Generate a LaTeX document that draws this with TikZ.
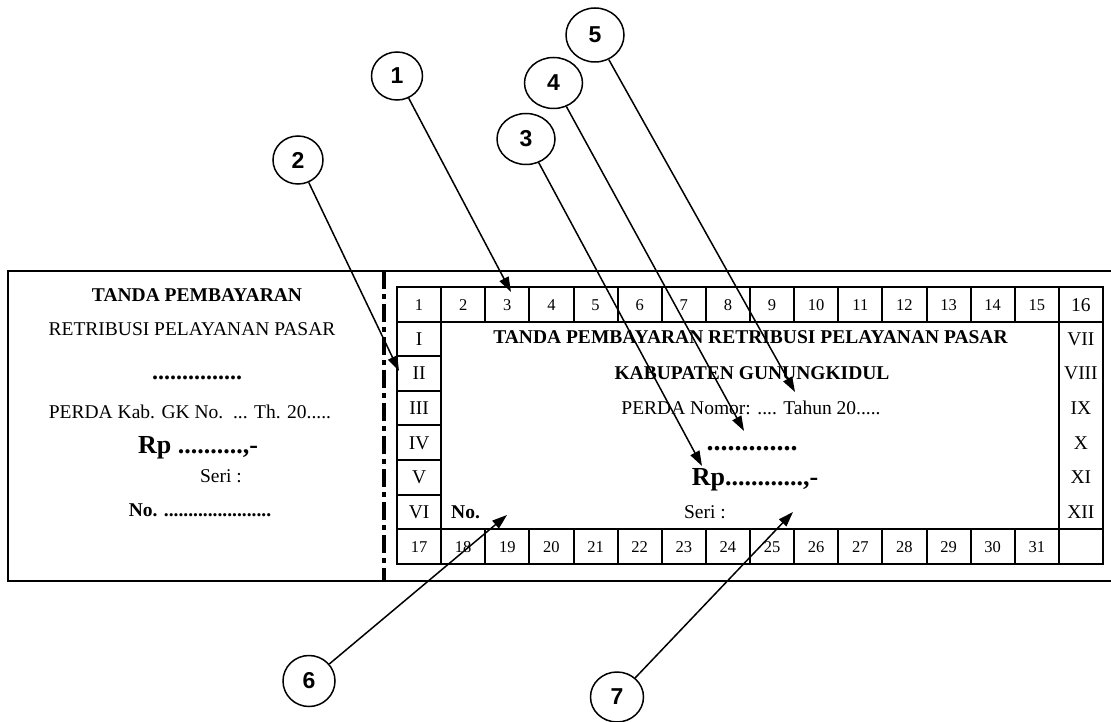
\documentclass[tikz,border=0pt]{standalone}
\usepackage{fontspec}
\setmainfont{Liberation Serif}
\newfontfamily\arialfont{Liberation Sans}
\usetikzlibrary{arrows.meta,shapes.geometric}
\begin{document}
\begin{tikzpicture}[x=1pt,y=-1pt,
  txt/.style={inner sep=0pt,anchor=base,font=\fontsize{19.5}{22}\selectfont},
  btxt/.style={inner sep=0pt,anchor=base,font=\fontsize{19.5}{22}\selectfont\bfseries},
  bigtxt/.style={inner sep=0pt,anchor=base,font=\fontsize{26}{28}\selectfont\bfseries},
  num/.style={inner sep=0pt,anchor=base,font=\fontsize{16.5}{19}\selectfont},
  callout/.style={ellipse,draw,line width=1.5pt,inner sep=0pt,font=\arialfont\bfseries\fontsize{23}{26}\selectfont},
  pointer/.style={line width=1.5pt,-{Triangle[length=15pt,width=10pt]}},
  grid/.style={line width=2pt}]
\useasboundingbox (0,0) rectangle (1111,722);

% outer frame and tear line
\draw[line width=2pt] (1116,271) -- (8,271) -- (8,581) -- (1116,581);
\draw[line width=4.5pt, dash pattern=on 18pt off 5pt on 5pt off 5pt] (384,271) -- (384,581);

% left stub
\node[btxt] (l1) at (197,301) {TANDA PEMBAYARAN};
\node[txt] (l2) at (192,335) {RETRIBUSI PELAYANAN PASAR};
\node[inner sep=0pt,anchor=base,font=\fontsize{24}{26}\selectfont\bfseries] (l3) at (197,379) {...............};
\node[txt] (l4) at (190,418) {PERDA Kab. GK No.\ \ ... Th. 20.....};
\node[bigtxt] (l5) at (198,453) {Rp ..........,-};
\node[txt] (l6) at (221,482) {Seri :};
\node[btxt] (l7) at (200,516) {No. ......................};

% table
\draw[grid] (397,287) rectangle (1103,563.8);
\draw[grid] (397,321.6) -- (1103,321.6);
\draw[grid] (397,529.2) -- (1103,529.2);
\foreach \i in {1,...,15} {
  \draw[grid] ({397+\i*44.125},287) -- ({397+\i*44.125},321.6);
  \draw[grid] ({397+\i*44.125},529.2) -- ({397+\i*44.125},563.8);
}
\draw[grid] (441.125,321.6) -- (441.125,529.2);
\draw[grid] (1058.875,321.6) -- (1058.875,529.2);
\foreach \k in {2,...,6} {
  \draw[grid] (397,{287+\k*34.6}) -- (441.125,{287+\k*34.6});
}
\foreach \i in {1,...,15} {
  \node[num] (top\i) at ({397+(\i-0.5)*44.125},310) {\i};
}
\node[txt] (top16) at ({397+15.5*44.125},311) {16};
\foreach \j [count=\i] in {17,...,31} {
  \node[num] (bot\i) at ({397+(\i-0.5)*44.125},552) {\j};
}
\foreach \r [count=\k] in {I,II,III,IV,V,VI} {
  \node[txt] (rl\k) at (419.06,{287+(\k+0.5)*34.6+6.3}) {\r};
}
\foreach \r [count=\k] in {VII,VIII,IX,X,XI,XII} {
  \node[txt] (rr\k) at (1080.94,{287+(\k+0.5)*34.6+6.3}) {\r};
}

% ticket body
\node[btxt] (m1) at (750.5,343.5) {TANDA PEMBAYARAN RETRIBUSI PELAYANAN PASAR};
\node[btxt] (m2) at (752,379) {KABUPATEN GUNUNGKIDUL};
\node[txt] (m3) at (751,414) {PERDA Nomor: .... Tahun 20.....};
\node[inner sep=0pt,anchor=base,font=\fontsize{28}{30}\selectfont\bfseries] (m4) at (752,450) {.............};
\node[bigtxt] (m5) at (755,485) {Rp............,-};
\node[btxt,anchor=base west] (m6) at (451,518) {No.};
\node[txt] (m7) at (705,518) {Seri :};

% callouts
\node[callout,minimum width=51pt,minimum height=48pt] (c1) at (397,76) {1};
\node[callout,minimum width=50pt,minimum height=48pt] (c2) at (298,160) {2};
\node[callout,minimum width=58pt,minimum height=51pt] (c3) at (526,139) {3};
\node[callout,minimum width=58pt,minimum height=51pt] (c4) at (553.5,83) {4};
\node[callout,minimum width=58pt,minimum height=54pt] (c5) at (595,35) {5};
\node[callout,minimum width=52pt,minimum height=51pt] (c6) at (309,681) {6};
\node[callout,minimum width=53pt,minimum height=50pt] (c7) at (617,697) {7};

\coordinate (t1) at (511,292);
\coordinate (t2) at (399,371);
\coordinate (t3) at (702,466);
\coordinate (t4) at (744,431);
\coordinate (t5) at (795,392);
\coordinate (t6) at (507,515);
\coordinate (t7) at (793,512);
\foreach \n in {1,...,7} {
  \draw[pointer] (c\n) -- (t\n);
}
\end{tikzpicture}
\end{document}
